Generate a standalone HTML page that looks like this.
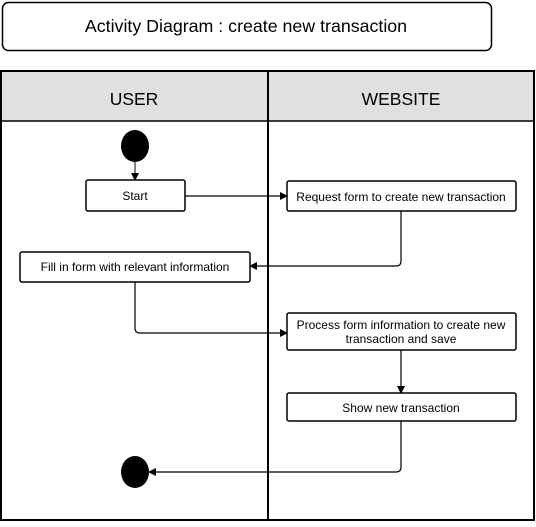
<!DOCTYPE html>
<html><head><style>body{margin:0;background:#fff;}</style></head><body>
<svg width="536" height="522" xmlns="http://www.w3.org/2000/svg" font-family="Liberation Sans, Arial, sans-serif">
<defs><marker id="a" markerWidth="8" markerHeight="8" refX="7" refY="4" orient="auto" markerUnits="userSpaceOnUse"><path d="M0,0 L8,4 L0,8 z" fill="#000"/></marker></defs>
<rect x="2.5" y="2.5" width="489" height="48" rx="6" fill="#fff" stroke="#000" stroke-width="1.5"/>
<text x="246" y="32" font-size="17.8" text-anchor="middle">Activity Diagram : create new transaction</text>
<rect x="1" y="71" width="533" height="50" fill="#e0e0e0"/>
<rect x="1" y="71" width="533" height="449" fill="none" stroke="#000" stroke-width="2"/>
<line x1="1" y1="121" x2="534" y2="121" stroke="#000" stroke-width="1.5"/>
<line x1="268" y1="71" x2="268" y2="521" stroke="#000" stroke-width="2"/>
<text x="134" y="105" font-size="17.5" text-anchor="middle">USER</text>
<text x="401" y="105" font-size="17.5" text-anchor="middle">WEBSITE</text>
<ellipse cx="135" cy="146" rx="14" ry="16" fill="#000"/>
<line x1="135" y1="162" x2="135" y2="180" stroke="#000" marker-end="url(#a)"/>
<g fill="#fff" stroke="#000" stroke-width="1.5">
<rect x="86" y="180" width="99" height="31" rx="2"/>
<rect x="287" y="181" width="229" height="30" rx="2"/>
<rect x="20" y="252" width="230" height="30" rx="2"/>
<rect x="287" y="313" width="229" height="37" rx="2"/>
<rect x="287" y="393" width="229" height="28" rx="2"/>
</g>
<g font-size="12" text-anchor="middle">
<text x="135" y="200">Start</text>
<text x="401" y="201">Request form to create new transaction</text>
<text x="135" y="271">Fill in form with relevant information</text>
<text x="401" y="329">Process form information to create new</text>
<text x="401" y="343">transaction and save</text>
<text x="401" y="412">Show new transaction</text>
</g>
<g fill="none" stroke="#000" stroke-width="1.2">
<line x1="185" y1="196" x2="287" y2="196" marker-end="url(#a)"/>
<path d="M401,211 V261 Q401,266 396,266 H250" marker-end="url(#a)"/>
<path d="M135,282 V328 Q135,333 140,333 H287" marker-end="url(#a)"/>
<line x1="401" y1="350" x2="401" y2="393" marker-end="url(#a)"/>
<path d="M401,421 V467 Q401,472 396,472 H149" marker-end="url(#a)"/>
</g>
<ellipse cx="135" cy="472" rx="14" ry="16" fill="#000"/>
</svg>
</body></html>
